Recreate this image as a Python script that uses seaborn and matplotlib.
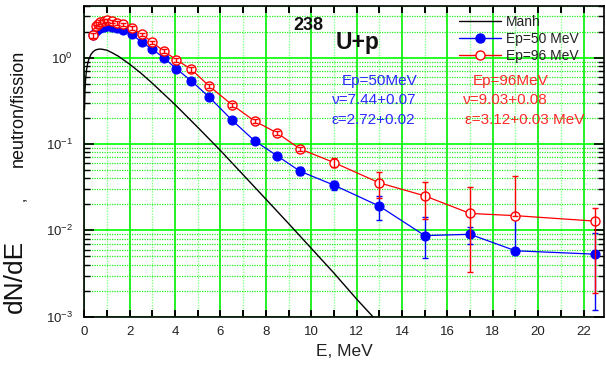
import matplotlib
matplotlib.use("Agg")
import matplotlib.pyplot as plt
from matplotlib.lines import Line2D
from matplotlib.ticker import MultipleLocator, LogLocator, NullFormatter
import seaborn as sns

# Outgoing neutron energy, MeV (same binning for both proton energies)
energy = [0.4, 0.5, 0.6, 0.7, 0.85, 1.0, 1.2, 1.45, 1.7, 2.1, 2.55, 3.0, 3.5,
          4.05, 4.72, 5.5, 6.5, 7.5, 8.5, 9.5, 11, 13, 15, 17, 19, 22.5]

# Ep = 50 MeV spectrum and its error bars (lower / upper)
ep50 = [1.85, 2.03, 2.13, 2.20, 2.27, 2.32, 2.27, 2.20, 2.12, 1.86, 1.50, 1.25, 1.00,
        0.746, 0.537, 0.35, 0.19, 0.109, 0.073, 0.0485, 0.0334, 0.0191, 0.0087,
        0.0090, 0.0058, 0.0053]
ep50_err_lo = [0.06, 0.06, 0.06, 0.06, 0.06, 0.06, 0.06, 0.06, 0.06, 0.05, 0.04, 0.035,
               0.03, 0.022, 0.016, 0.012, 0.008, 0.005, 0.004, 0.005, 0.004, 0.006,
               0.0039, 0.002, 0.0, 0.0041]
ep50_err_hi = [0.06, 0.06, 0.06, 0.06, 0.06, 0.06, 0.06, 0.06, 0.06, 0.05, 0.04, 0.035,
               0.03, 0.022, 0.016, 0.012, 0.008, 0.005, 0.004, 0.005, 0.004, 0.006,
               0.0055, 0.002, 0.008, 0.0041]

# Ep = 96 MeV spectrum and its error bars (lower / upper)
ep96 = [1.81, 2.30, 2.47, 2.58, 2.65, 2.70, 2.63, 2.51, 2.43, 2.22, 1.86, 1.51, 1.19,
        0.95, 0.73, 0.47, 0.286, 0.185, 0.134, 0.088, 0.061, 0.0355, 0.0251,
        0.0157, 0.0148, 0.0128]
ep96_err_lo = [0.10, 0.12, 0.12, 0.12, 0.12, 0.12, 0.12, 0.12, 0.12, 0.10, 0.09, 0.07,
               0.06, 0.05, 0.04, 0.025, 0.015, 0.010, 0.007, 0.005, 0.007, 0.012,
               0.0114, 0.0124, 0.0, 0.0109]
ep96_err_hi = [0.10, 0.12, 0.12, 0.12, 0.12, 0.12, 0.12, 0.12, 0.12, 0.10, 0.09, 0.07,
               0.06, 0.05, 0.04, 0.025, 0.015, 0.010, 0.007, 0.005, 0.007, 0.012,
               0.0114, 0.0157, 0.0276, 0.0052]

# Manhart reference spectrum
manh_energy = [0.01, 0.03, 0.06, 0.1, 0.15, 0.2, 0.3, 0.4, 0.5, 0.6, 0.7, 0.8, 1.0,
               1.2, 1.5, 2.0, 2.5, 3.0, 3.5, 4.0, 5.0, 6.0, 7.0, 8.0, 9.0, 10, 11,
               12, 13]
manh = [0.25, 0.42, 0.58, 0.73, 0.86, 0.96, 1.10, 1.18, 1.23, 1.25, 1.26, 1.25, 1.22,
        1.15, 1.04, 0.84, 0.66, 0.505, 0.38, 0.286, 0.156, 0.084, 0.044, 0.023,
        0.012, 0.0062, 0.0032, 0.0016, 0.00083]

x_major_ticks = list(range(0, 23, 2))

W, H = 606, 367

sns.set_theme(style="ticks")
plt.rcParams["font.family"] = ["Liberation Sans", "DejaVu Sans"]
plt.rcParams["mathtext.fontset"] = "custom"
plt.rcParams["mathtext.rm"] = "Liberation Sans"
plt.rcParams["mathtext.it"] = "Liberation Sans:italic"
plt.rcParams["mathtext.bf"] = "Liberation Sans:bold"


def fx(px):
    return px / W


def fy(py):
    return 1 - py / H


fig = plt.figure(figsize=(W / 100, H / 100), dpi=100)
ax = fig.add_axes([fx(84.3), fy(316.7), fx(604) - fx(84.3), fy(5.7) - fy(316.7)])
ax.set_yscale("log")

BLUE = "#0000ff"
RED = "#ff0000"

sns.lineplot(x=manh_energy, y=manh, color="black", lw=1.0, sort=False,
             estimator=None, ax=ax, zorder=2)

sns.lineplot(x=energy, y=ep50, color=BLUE, lw=0.9, sort=False, estimator=None,
             marker="o", markersize=6.5, markerfacecolor=BLUE, markeredgecolor=BLUE,
             markeredgewidth=0.8, ax=ax, zorder=3)
ax.errorbar(energy, ep50, yerr=[ep50_err_lo, ep50_err_hi], fmt="none", ecolor=BLUE,
            elinewidth=1.0, capsize=2, capthick=1.0, zorder=3.5)

sns.lineplot(x=energy, y=ep96, color=RED, lw=0.9, sort=False, estimator=None,
             marker="o", markersize=6.5, markerfacecolor="white", markeredgecolor=RED,
             markeredgewidth=1.0, ax=ax, zorder=4)
ax.errorbar(energy, ep96, yerr=[ep96_err_lo, ep96_err_hi], fmt="none", ecolor=RED,
            elinewidth=1.0, capsize=2, capthick=1.0, zorder=4.5)

ax.set_xlim(0, 22.9)
ax.set_ylim(1e-3, 4.0)

ax.xaxis.set_major_locator(MultipleLocator(2))
ax.xaxis.set_minor_locator(MultipleLocator(1))
ax.set_xticks(x_major_ticks)
ax.yaxis.set_major_locator(LogLocator(base=10, numticks=10))
ax.yaxis.set_minor_locator(LogLocator(base=10, subs=range(2, 10), numticks=20))
ax.yaxis.set_minor_formatter(NullFormatter())

# grid: solid at even energies and decades, dotted in between
ax.set_axisbelow(True)
ax.xaxis.grid(True, which="major", color="#00ee00", lw=1.2, ls="-")
ax.xaxis.grid(True, which="minor", color="#88ff88", lw=1.0, ls=(0, (1, 1)))
ax.yaxis.grid(True, which="major", color="#00ff00", lw=1.2, ls="-")
ax.yaxis.grid(True, which="minor", color="#22ee22", lw=0.9, ls=(0, (1, 1)))

for sp in ax.spines.values():
    sp.set_visible(True)
    sp.set_color("black")
    sp.set_linewidth(1.2)

ax.tick_params(axis="x", which="both", direction="in", top=True, bottom=True,
               length=5, width=1.4, color="black", labelsize=9.5, pad=7)
ax.tick_params(axis="y", which="major", direction="in", left=True, right=True,
               length=7, width=1.2, color="black", labelsize=9.5, pad=8)
ax.tick_params(axis="y", which="minor", direction="in", left=True, right=True,
               length=4, width=1.0, color="black")
for lab in ax.get_xticklabels() + ax.get_yticklabels():
    lab.set_color("#222222")

ax.set_xlabel("")
ax.set_ylabel("")
fig.text(fx(344), fy(352), "E, MeV", ha="center", va="center", fontsize=12.5,
         color="#222222")

# y axis title
fig.text(fx(15), fy(276), "dN/dE", rotation=90, ha="center", va="center",
         fontsize=19, color="#111111")
fig.text(fx(21), fy(199), ",", rotation=90, ha="center", va="center",
         fontsize=11, color="#111111")
fig.text(fx(18), fy(108), "neutron/fission", rotation=90, ha="center", va="center",
         fontsize=13, color="#111111")

# reaction label
fig.text(fx(308), fy(25), "238", ha="center", va="center", fontsize=13,
         fontweight="bold", color="#111111")
fig.text(fx(358), fy(42), "U+p", ha="center", va="center", fontsize=16.5,
         fontweight="bold", color="#111111")

# fitted parameters
TB = "#2b2bff"
TR = "#ff2b2b"
fig.text(fx(379.5), fy(81.5), "Ep=50MeV", ha="center", va="center", fontsize=11, color=TB)
fig.text(fx(374.5), fy(100), "ν=7.44+0.07", ha="center", va="center", fontsize=11, color=TB)
fig.text(fx(373.5), fy(120), "ε=2.72+0.02", ha="center", va="center", fontsize=11, color=TB)
fig.text(fx(510.5), fy(81.5), "Ep=96MeV", ha="center", va="center", fontsize=11, color=TR)
fig.text(fx(505.5), fy(100.5), "ν=9.03+0.08", ha="center", va="center", fontsize=11, color=TR)
fig.text(fx(525), fy(120), "ε=3.12+0.03 MeV", ha="center", va="center", fontsize=11, color=TR)

handles = [
    Line2D([], [], color="black", lw=1.0),
    Line2D([], [], color=BLUE, lw=1.0, marker="o", markersize=6.5,
           markerfacecolor=BLUE, markeredgecolor=BLUE),
    Line2D([], [], color=RED, lw=1.0, marker="o", markersize=6.5,
           markerfacecolor="white", markeredgecolor=RED),
]
labels = ["Manh", "Ep=50 MeV", "Ep=96 MeV"]
fig.legend(handles, labels, loc="upper left", bbox_to_anchor=(fx(459), fy(15)),
           frameon=False, fontsize=10, handlelength=3.0, handletextpad=0.4,
           labelspacing=0.2, borderpad=0, borderaxespad=0, labelcolor="#222222")

fig.savefig("out.png", dpi=100)
